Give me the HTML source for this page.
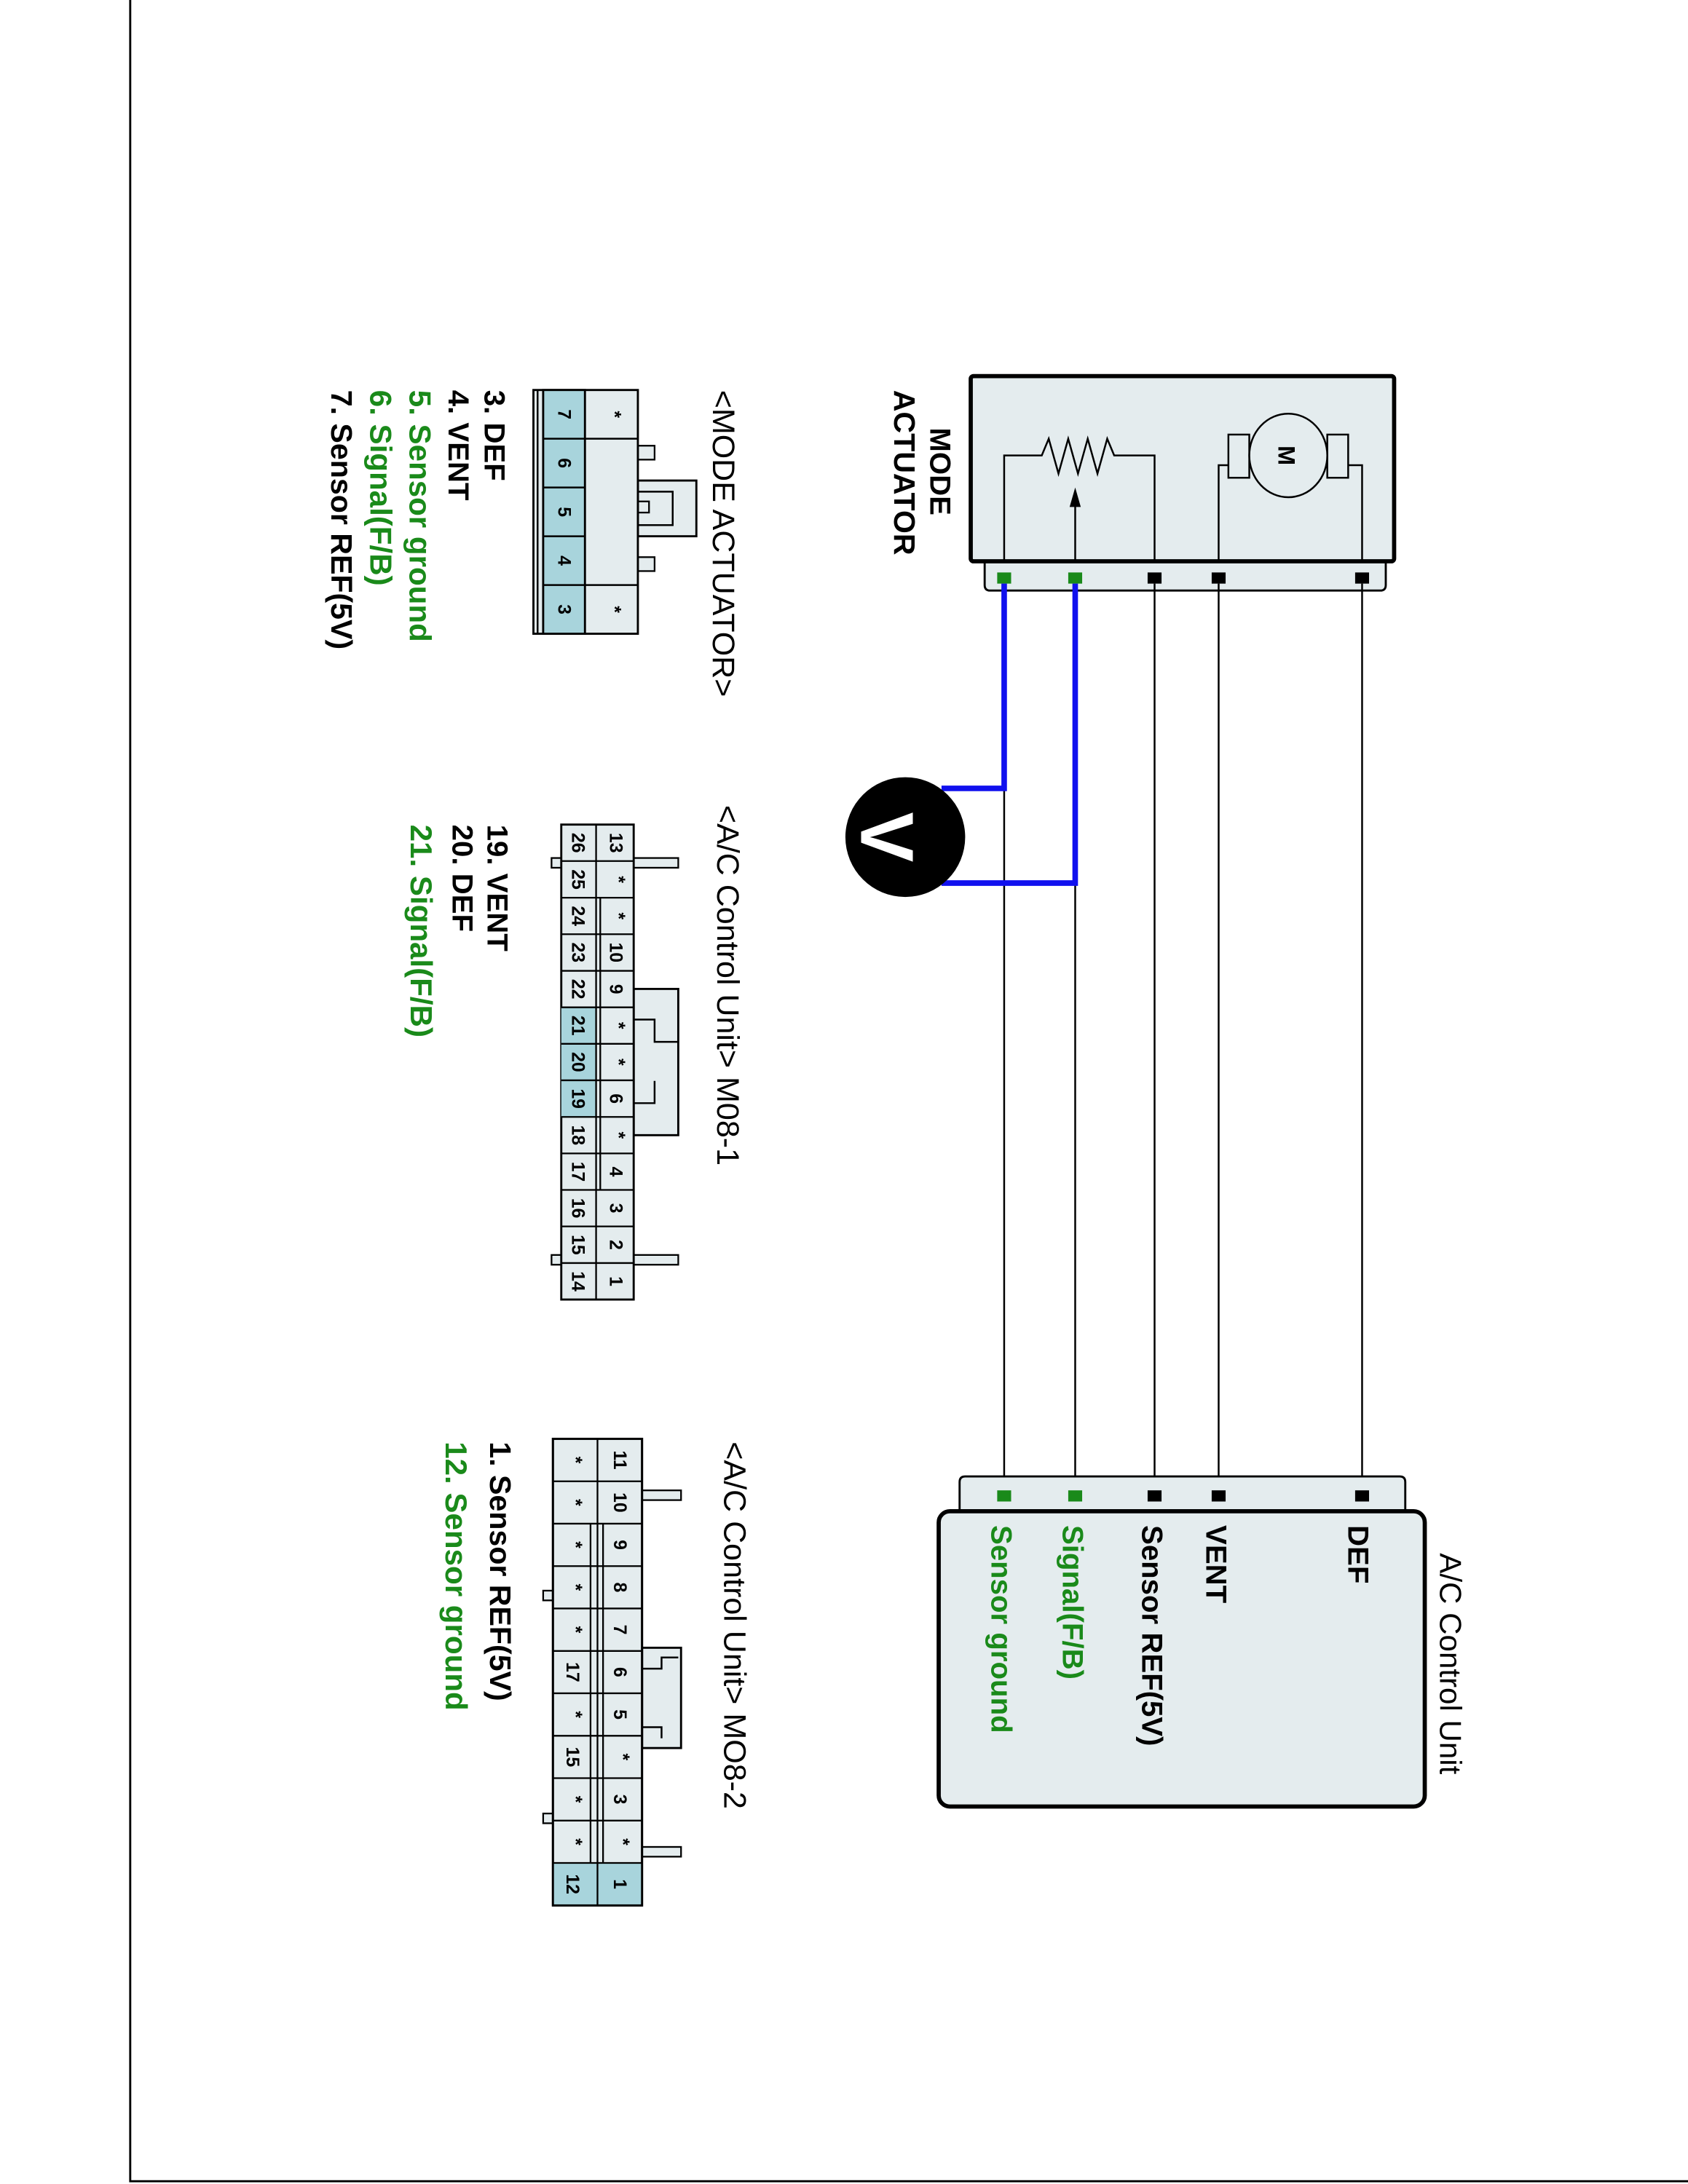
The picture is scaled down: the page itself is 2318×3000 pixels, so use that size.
<!DOCTYPE html>
<html><head><meta charset="utf-8"><style>
html,body{margin:0;padding:0;background:#fff;}
svg{display:block;}
text{font-family:"Liberation Sans",Arial,sans-serif;}
.b{font-weight:bold;}
.g{fill:#1a8a1a;}
.c{font-size:13px;font-weight:bold;text-anchor:middle;dominant-baseline:central;}
</style></head><body>
<svg width="2318" height="3000" viewBox="0 0 1212 1568" preserveAspectRatio="none" xmlns="http://www.w3.org/2000/svg">
<rect x="0" y="0" width="1212" height="1568" fill="#fff"/>
<path d="M93.5 0 V1566 H1212" fill="none" stroke="#000" stroke-width="1.5"/>

<!-- MODE ACTUATOR component -->
<path d="M707 403 H995 V420 Q995 424 991 424 H711 Q707 424 707 420 Z" fill="#e4ecee" stroke="#000" stroke-width="1.5"/>
<rect x="697" y="270" width="304" height="133" rx="2" fill="#e4ecee" stroke="#000" stroke-width="3"/>
<path d="M721 403 V327 H748 L753 315 L760 340 L767 315 L774 340 L781 315 L788 340 L795 315 L800 327 H829 V403" fill="none" stroke="#000" stroke-width="1.3"/>
<path d="M772 403 V360" stroke="#000" stroke-width="1.3"/>
<path d="M772 350 L768 364 L776 364 Z" fill="#000"/>
<path d="M875 403 V334 H882" fill="none" stroke="#000" stroke-width="1.3"/>
<path d="M978 403 V334 H968" fill="none" stroke="#000" stroke-width="1.3"/>
<rect x="882" y="312" width="15" height="31" fill="none" stroke="#000" stroke-width="1.3"/>
<rect x="953" y="312" width="15" height="31" fill="none" stroke="#000" stroke-width="1.3"/>
<ellipse cx="925" cy="327" rx="28" ry="30" fill="#e4ecee" stroke="#000" stroke-width="1.3"/>
<text class="b" transform="translate(918,327) rotate(90)" font-size="17" text-anchor="middle">M</text>
<text class="b" transform="translate(668,307) rotate(90)" font-size="21">MODE</text>
<text class="b" transform="translate(642,280) rotate(90)" font-size="21.5">ACTUATOR</text>
<rect x="716" y="411" width="10" height="8" fill="#1a8a1a"/>
<rect x="767" y="411" width="10" height="8" fill="#1a8a1a"/>
<rect x="824" y="411" width="10" height="8" fill="#000"/>
<rect x="870" y="411" width="10" height="8" fill="#000"/>
<rect x="973" y="411" width="10" height="8" fill="#000"/>

<!-- wires -->
<path d="M721 566 V1070 M772 634 V1070 M829 419 V1070 M875 419 V1070 M978 419 V1070" stroke="#000" stroke-width="1.3" fill="none"/>
<path d="M721 419 V566 H676 M772 419 V634 H676" stroke="#1010ee" stroke-width="4" fill="none"/>
<circle cx="650" cy="601" r="43" fill="#000"/>
<text transform="translate(637,601) rotate(90)" font-size="54" font-weight="bold" fill="#fff" text-anchor="middle" dominant-baseline="central">V</text>

<!-- A/C Control Unit -->
<path d="M689 1085 V1064 Q689 1060 693 1060 H1005 Q1009 1060 1009 1064 V1085 Z" fill="#e4ecee" stroke="#000" stroke-width="1.5"/>
<rect x="674" y="1085" width="349" height="212" rx="8" fill="#e4ecee" stroke="#000" stroke-width="3"/>
<rect x="716" y="1070" width="10" height="8" fill="#1a8a1a"/>
<rect x="767" y="1070" width="10" height="8" fill="#1a8a1a"/>
<rect x="824" y="1070" width="10" height="8" fill="#000"/>
<rect x="870" y="1070" width="10" height="8" fill="#000"/>
<rect x="973" y="1070" width="10" height="8" fill="#000"/>
<text transform="translate(1034,1115) rotate(90)" font-size="22">A/C Control Unit</text>
<text class="b" transform="translate(968,1095) rotate(90)" font-size="21">DEF</text>
<text class="b" transform="translate(866,1095) rotate(90)" font-size="21">VENT</text>
<text class="b" transform="translate(820,1095) rotate(90)" font-size="21">Sensor REF(5V)</text>
<text class="b g" transform="translate(763,1095) rotate(90)" font-size="21">Signal(F/B)</text>
<text class="b g" transform="translate(712,1095) rotate(90)" font-size="21">Sensor ground</text>

<!-- MODE ACTUATOR connector -->
<text transform="translate(512,280) rotate(90)" font-size="22.5">&lt;MODE ACTUATOR&gt;</text>
<rect x="458" y="320" width="12" height="10" fill="#e4ecee" stroke="#000" stroke-width="1.2"/>
<rect x="458" y="400" width="12" height="10" fill="#e4ecee" stroke="#000" stroke-width="1.2"/>
<rect x="458" y="345" width="42" height="40" fill="#e4ecee" stroke="#000" stroke-width="1.5"/>
<rect x="458" y="353" width="25" height="24" fill="none" stroke="#000" stroke-width="1.3"/>
<rect x="458" y="360" width="8" height="8" fill="none" stroke="#000" stroke-width="1.2"/>
<rect x="383" y="280" width="75" height="175" fill="#e4ecee" stroke="#000" stroke-width="1.5"/>
<rect x="390" y="280" width="30" height="175" fill="#a8d4dc" stroke="#000" stroke-width="1.5"/>
<path d="M390 315 H420 M390 350 H420 M390 385 H420 M390 420 H420 M420 315 H458 M420 420 H458 M386 280 V455" stroke="#000" stroke-width="1.3"/>
<text class="c" transform="translate(405,297.5) rotate(90)">7</text>
<text class="c" transform="translate(405,332.5) rotate(90)">6</text>
<text class="c" transform="translate(405,367.5) rotate(90)">5</text>
<text class="c" transform="translate(405,402.5) rotate(90)">4</text>
<text class="c" transform="translate(405,437.5) rotate(90)">3</text>
<text class="c" transform="translate(441,297.5) rotate(90)" font-size="20">*</text>
<text class="c" transform="translate(441,437.5) rotate(90)" font-size="20">*</text>
<text class="b" transform="translate(348,280) rotate(90)" font-size="21">3. DEF</text>
<text class="b" transform="translate(322,280) rotate(90)" font-size="21">4. VENT</text>
<text class="b g" transform="translate(294,280) rotate(90)" font-size="22">5. Sensor ground</text>
<text class="b g" transform="translate(266,280) rotate(90)" font-size="22">6. Signal(F/B)</text>
<text transform="translate(238,280) rotate(90)" font-size="21.5" font-weight="bold">7. Sensor REF(5V)</text>

<!-- M08-1 connector -->
<text transform="translate(515,578) rotate(90)" font-size="22.5">&lt;A/C Control Unit&gt; M08-1</text>
<rect x="455" y="616" width="32" height="7" fill="#e4ecee" stroke="#000" stroke-width="1.2"/>
<rect x="455" y="901" width="32" height="7" fill="#e4ecee" stroke="#000" stroke-width="1.2"/>
<rect x="396" y="616" width="7" height="7" fill="#e4ecee" stroke="#000" stroke-width="1.2"/>
<rect x="396" y="901" width="7" height="7" fill="#e4ecee" stroke="#000" stroke-width="1.2"/>
<rect x="455" y="710" width="32" height="105" fill="#e4ecee" stroke="#000" stroke-width="1.5"/>
<path d="M455 732 H470 V748 H487 M455 792 H470 V776" fill="none" stroke="#000" stroke-width="1.3"/>
<rect x="403" y="592" width="52" height="341" fill="#e4ecee" stroke="#000" stroke-width="1.5"/>
<rect x="403" y="723.2" width="25" height="78.7" fill="#a8d4dc"/>
<path d="M428 592 V933 M431 644.5 V854.3 M403 618.2 H455 M403 644.5 H455 M403 670.7 H455 M403 697 H455 M403 723.2 H455 M403 749.4 H455 M403 775.6 H455 M403 801.9 H455 M403 828.1 H455 M403 854.3 H455 M403 880.5 H455 M403 906.8 H455" stroke="#000" stroke-width="1.2" fill="none"/>
<g>
<text class="c" transform="translate(442,605.1) rotate(90)">13</text>
<text class="c" transform="translate(444,631.4) rotate(90)" font-size="18">*</text>
<text class="c" transform="translate(444,657.6) rotate(90)" font-size="18">*</text>
<text class="c" transform="translate(442,683.8) rotate(90)">10</text>
<text class="c" transform="translate(442,710.1) rotate(90)">9</text>
<text class="c" transform="translate(444,736.3) rotate(90)" font-size="18">*</text>
<text class="c" transform="translate(444,762.5) rotate(90)" font-size="18">*</text>
<text class="c" transform="translate(442,788.8) rotate(90)">6</text>
<text class="c" transform="translate(444,815) rotate(90)" font-size="18">*</text>
<text class="c" transform="translate(442,841.2) rotate(90)">4</text>
<text class="c" transform="translate(442,867.4) rotate(90)">3</text>
<text class="c" transform="translate(442,893.7) rotate(90)">2</text>
<text class="c" transform="translate(442,919.9) rotate(90)">1</text>
<text class="c" transform="translate(415,605.1) rotate(90)">26</text>
<text class="c" transform="translate(415,631.4) rotate(90)">25</text>
<text class="c" transform="translate(415,657.6) rotate(90)">24</text>
<text class="c" transform="translate(415,683.8) rotate(90)">23</text>
<text class="c" transform="translate(415,710.1) rotate(90)">22</text>
<text class="c" transform="translate(415,736.3) rotate(90)">21</text>
<text class="c" transform="translate(415,762.5) rotate(90)">20</text>
<text class="c" transform="translate(415,788.8) rotate(90)">19</text>
<text class="c" transform="translate(415,815) rotate(90)">18</text>
<text class="c" transform="translate(415,841.2) rotate(90)">17</text>
<text class="c" transform="translate(415,867.4) rotate(90)">16</text>
<text class="c" transform="translate(415,893.7) rotate(90)">15</text>
<text class="c" transform="translate(415,919.9) rotate(90)">14</text>
</g>
<text class="b" transform="translate(350,592) rotate(90)" font-size="21">19. VENT</text>
<text class="b" transform="translate(325,592) rotate(90)" font-size="21">20. DEF</text>
<text class="b g" transform="translate(295,592) rotate(90)" font-size="22">21. Signal(F/B)</text>

<!-- M08-2 connector -->
<text transform="translate(520,1035) rotate(90)" font-size="22.5">&lt;A/C Control Unit&gt; MO8-2</text>
<rect x="461" y="1070" width="28" height="7" fill="#e4ecee" stroke="#000" stroke-width="1.2"/>
<rect x="461" y="1326" width="28" height="7" fill="#e4ecee" stroke="#000" stroke-width="1.2"/>
<rect x="390" y="1142" width="7" height="7" fill="#e4ecee" stroke="#000" stroke-width="1.2"/>
<rect x="390" y="1302" width="7" height="7" fill="#e4ecee" stroke="#000" stroke-width="1.2"/>
<rect x="461" y="1183" width="28" height="72" fill="#e4ecee" stroke="#000" stroke-width="1.5"/>
<path d="M461 1198 H475 V1190 H487 M461 1240 H475 V1248" fill="none" stroke="#000" stroke-width="1.3"/>
<rect x="397" y="1033" width="64" height="335" fill="#e4ecee" stroke="#000" stroke-width="1.5"/>
<rect x="397" y="1337.5" width="64" height="30.5" fill="#a8d4dc"/>
<path d="M429 1033 V1368 M424 1093.9 V1337.5 M433 1093.9 V1337.5 M397 1063.5 H461 M397 1093.9 H461 M397 1124.4 H461 M397 1154.8 H461 M397 1185.3 H461 M397 1215.7 H461 M397 1246.2 H461 M397 1276.6 H461 M397 1307.1 H461 M397 1337.5 H461" stroke="#000" stroke-width="1.2" fill="none"/>
<rect x="397" y="1033" width="64" height="335" fill="none" stroke="#000" stroke-width="1.5"/>
<g>
<text class="c" transform="translate(445,1048.2) rotate(90)">11</text>
<text class="c" transform="translate(445,1078.7) rotate(90)">10</text>
<text class="c" transform="translate(445,1109.1) rotate(90)">9</text>
<text class="c" transform="translate(445,1139.6) rotate(90)">8</text>
<text class="c" transform="translate(445,1170) rotate(90)">7</text>
<text class="c" transform="translate(445,1200.5) rotate(90)">6</text>
<text class="c" transform="translate(445,1230.9) rotate(90)">5</text>
<text class="c" transform="translate(447,1261.4) rotate(90)" font-size="18">*</text>
<text class="c" transform="translate(445,1291.8) rotate(90)">3</text>
<text class="c" transform="translate(447,1322.3) rotate(90)" font-size="18">*</text>
<text class="c" transform="translate(445,1352.7) rotate(90)">1</text>
<text class="c" transform="translate(413,1048.2) rotate(90)" font-size="18">*</text>
<text class="c" transform="translate(413,1078.7) rotate(90)" font-size="18">*</text>
<text class="c" transform="translate(413,1109.1) rotate(90)" font-size="18">*</text>
<text class="c" transform="translate(413,1139.6) rotate(90)" font-size="18">*</text>
<text class="c" transform="translate(413,1170) rotate(90)" font-size="18">*</text>
<text class="c" transform="translate(411,1200.5) rotate(90)">17</text>
<text class="c" transform="translate(413,1230.9) rotate(90)" font-size="18">*</text>
<text class="c" transform="translate(411,1261.4) rotate(90)">15</text>
<text class="c" transform="translate(413,1291.8) rotate(90)" font-size="18">*</text>
<text class="c" transform="translate(413,1322.3) rotate(90)" font-size="18">*</text>
<text class="c" transform="translate(411,1352.7) rotate(90)">12</text>
</g>
<text transform="translate(352,1035) rotate(90)" font-size="21.5" font-weight="bold">1. Sensor REF(5V)</text>
<text class="b g" transform="translate(320,1035) rotate(90)" font-size="22">12. Sensor ground</text>
</svg>
</body></html>
